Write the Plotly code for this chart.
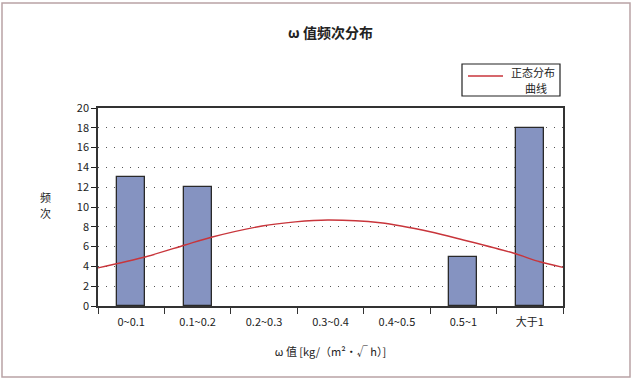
import plotly.graph_objects as go

categories = ["0~0.1", "0.1~0.2", "0.2~0.3", "0.3~0.4", "0.4~0.5", "0.5~1", "大于1"]
counts = [13, 12, 0, 0, 0, 5, 18]

# normal distribution curve (x in category units)
curve_x = [-0.5, 0.21, 0.81, 1.22, 1.97, 2.47, 2.96, 3.75, 4.5, 5.0, 5.75, 6.15, 6.5]
curve_y = [3.85, 4.95, 6.16, 6.97, 8.08, 8.5, 8.69, 8.41, 7.5, 6.67, 5.35, 4.47, 3.9]

y_ticks = list(range(0, 21, 2))

font_main = "Noto Sans CJK SC, DejaVu Sans, sans-serif"

fig = go.Figure()
fig.add_trace(go.Bar(
    x=list(range(len(categories))), y=counts, width=0.42,
    marker=dict(color="#8593c1",
                line=dict(color="#2a2a2a", width=[1.3 if c > 0 else 0 for c in counts])),
    showlegend=False,
))
fig.add_trace(go.Scatter(
    x=curve_x, y=curve_y, mode="lines",
    line=dict(color="#c8353b", width=1.4, shape="spline", smoothing=0.8),
    showlegend=False,
))

fig.update_layout(
    width=634, height=382,
    margin=dict(l=98, r=71, t=108, b=76),
    paper_bgcolor="white", plot_bgcolor="white",
    font=dict(family=font_main, size=11, color="#222"),
    bargap=0,
    title=dict(text="<b>ω 值频次分布</b>", x=0.5, xref="paper", y=0.913, yanchor="middle",
               font=dict(size=14, color="#222", family=font_main)),
)
fig.update_xaxes(
    range=[-0.5, 6.5], tickmode="array", tickvals=list(range(len(categories))),
    ticktext=categories, ticks="", showgrid=False, zeroline=False,
    showline=True, linecolor="#333", linewidth=1.5, mirror=True,
    minor=dict(tick0=0.5, dtick=1, ticks="outside", ticklen=6, tickcolor="#333", tickwidth=1.3, showgrid=False),
    tickfont=dict(size=11, color="#222"), ticklabelstandoff=5,
    title=dict(text="ω 值 [kg/（m²·√ h）]", font=dict(size=11, color="#222"), standoff=20),
)
fig.update_yaxes(
    range=[0, 20], tickmode="array", tickvals=y_ticks, ticks="outside", ticklen=5,
    tickcolor="#222", tickwidth=1.3,
    showline=True, linecolor="#333", linewidth=1.5, mirror=True,
    showgrid=True, gridcolor="#555", gridwidth=1.3, griddash="1px,7px",
    zeroline=False, tickfont=dict(size=11, color="#222"),
)

# y-axis title (stacked characters)
fig.add_annotation(text="频", xref="paper", yref="paper", x=-0.128, y=(306 - 197) / 198,
                   showarrow=False, font=dict(size=11, color="#222"), yanchor="middle")
fig.add_annotation(text="次", xref="paper", yref="paper", x=-0.128, y=(306 - 213) / 198,
                   showarrow=False, font=dict(size=11, color="#222"), yanchor="middle")

# legend box
fig.add_shape(type="rect", xref="paper", yref="paper",
              x0=(462 - 98) / 465, x1=(560 - 98) / 465,
              y0=(306 - 96) / 198, y1=(306 - 64) / 198,
              line=dict(color="#222", width=1.2), fillcolor="white")
fig.add_shape(type="line", xref="paper", yref="paper",
              x0=(468 - 98) / 465, x1=(503 - 98) / 465,
              y0=(306 - 76) / 198, y1=(306 - 76) / 198,
              line=dict(color="#c8353b", width=1.6))
fig.add_annotation(text="正态分布", xref="paper", yref="paper",
                   x=(557 - 98) / 465, y=(306 - 72) / 198, xanchor="right", yanchor="middle",
                   showarrow=False, font=dict(size=11, color="#222"))
fig.add_annotation(text="曲线", xref="paper", yref="paper",
                   x=(536 - 98) / 465, y=(306 - 88) / 198, xanchor="center", yanchor="middle",
                   showarrow=False, font=dict(size=11, color="#222"))

# outer border
fig.add_shape(type="rect", xref="paper", yref="paper",
              x0=-96 / 465, x1=(630 - 98) / 465,
              y0=(306 - 377) / 198, y1=(306 - 3) / 198,
              line=dict(color="#b9a3a5", width=1.5))

fig.write_html("out.html", config={"displayModeBar": False},
               post_script="document.body.style.margin='0';document.body.style.overflow='hidden';")
